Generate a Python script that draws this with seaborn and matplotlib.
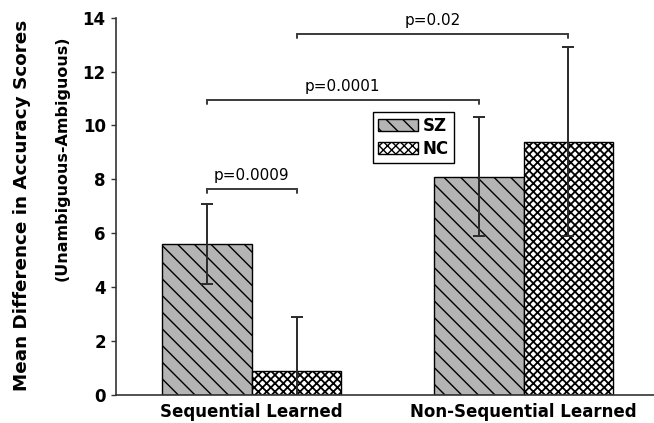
import matplotlib
matplotlib.use("Agg")
import matplotlib.pyplot as plt
import seaborn as sns
import pandas as pd

# ---- data ----
groups = ["Sequential Learned", "Non-Sequential Learned"]
subjects = ["SZ", "NC"]
sz_means = [5.6, 8.1]
nc_means = [0.9, 9.4]
sz_err = [1.5, 2.2]
nc_err = [2.0, 3.5]
# significance brackets: (label, (subject, group) start, (subject, group) end, height)
brackets = [
    ("p=0.0009", ("SZ", 0), ("NC", 0), 7.65),
    ("p=0.0001", ("SZ", 0), ("SZ", 1), 10.95),
    ("p=0.02", ("NC", 0), ("NC", 1), 13.4),
]
yticks = [0, 2, 4, 6, 8, 10, 12, 14]

df = pd.DataFrame({
    "group": groups * 2,
    "subject": ["SZ"] * 2 + ["NC"] * 2,
    "mean": sz_means + nc_means,
})
errs = {"SZ": sz_err, "NC": nc_err}

sns.set_style("ticks")
plt.rcParams["font.family"] = ["DejaVu Sans"]
plt.rcParams["hatch.linewidth"] = 1.0
plt.rcParams["text.color"] = "black"
plt.rcParams["xtick.labelcolor"] = "black"
plt.rcParams["ytick.labelcolor"] = "black"

fig = plt.figure(figsize=(6.54, 4.23), dpi=100)
ax = fig.add_axes([0.177, 0.0662, 0.823, 0.892])

sns.barplot(data=df, x="group", y="mean", hue="subject", hue_order=subjects,
            order=groups, palette={"SZ": "#b4b4b4", "NC": "#ffffff"},
            width=0.66, edgecolor="black", linewidth=1.0, errorbar=None,
            legend=False, ax=ax)

hatches = {"SZ": "\\\\", "NC": "xxxx"}
hatch_lw = {"SZ": 1.0, "NC": 1.3}
centers = {}
for subj, cont in zip(subjects, ax.containers):
    xs, ys = [], []
    for gi, p in enumerate(cont.patches):
        p.set_hatch(hatches[subj])
        if hasattr(p, "set_hatch_linewidth"):
            p.set_hatch_linewidth(hatch_lw[subj])
        p.set_edgecolor("black")
        cx = p.get_x() + p.get_width() / 2
        xs.append(cx)
        ys.append(p.get_height())
        centers[(subj, gi)] = cx
    ax.errorbar(xs, ys, yerr=errs[subj], fmt="none", ecolor="#2a2a2a",
                elinewidth=1.4, capsize=4.5, capthick=1.4, zorder=5)

tick_h = 0.14
for label, a, b, y in brackets:
    x1, x2 = centers[a], centers[b]
    ax.plot([x1, x1, x2, x2], [y - tick_h, y, y, y - tick_h], color="#3a3a3a",
            lw=1.4, clip_on=False, solid_joinstyle="miter")
    ax.annotate(label, xy=((x1 + x2) / 2, y), xytext=(0, 4),
                textcoords="offset points", ha="center", va="bottom",
                fontsize=11, color="black")

ax.set_ylim(0, 14)
ax.set_xlim(-0.5, 1.48)
ax.set_yticks(yticks)
ax.set_yticklabels([str(t) for t in yticks], fontsize=12, fontweight="bold")
ax.set_xticks([0, 1])
ax.set_xticklabels(groups, fontsize=12, fontweight="bold")
ax.tick_params(axis="x", length=0, pad=5.5)
ax.tick_params(axis="y", length=3.6, width=1.0, pad=3.6, color="#333333")
ax.set_xlabel("")
ax.set_ylabel("")
sns.despine(ax=ax)
for s in ["left", "bottom"]:
    ax.spines[s].set_color("#333333")
    ax.spines[s].set_linewidth(1.2)

fig.text(0.0336, 0.515, "Mean Difference in Accuracy Scores", rotation=90,
         ha="center", va="center", fontsize=13.2, fontweight="bold")
fig.text(0.0948, 0.625, "(Unambiguous-Ambiguous)", rotation=90,
         ha="center", va="center", fontsize=11.5, fontweight="bold")

leg = ax.legend(handles=list(ax.containers), labels=subjects,
                loc="upper left", bbox_to_anchor=(0.5703, 0.7352),
                bbox_transform=fig.transFigure, fancybox=False,
                edgecolor="black", framealpha=1, handlelength=2.4,
                handleheight=0.7, handletextpad=0.3, borderpad=0.3,
                labelspacing=0.3, borderaxespad=0,
                prop={"weight": "bold", "size": 12})
leg.get_frame().set_linewidth(1.0)

fig.savefig("out.png", dpi=100)
